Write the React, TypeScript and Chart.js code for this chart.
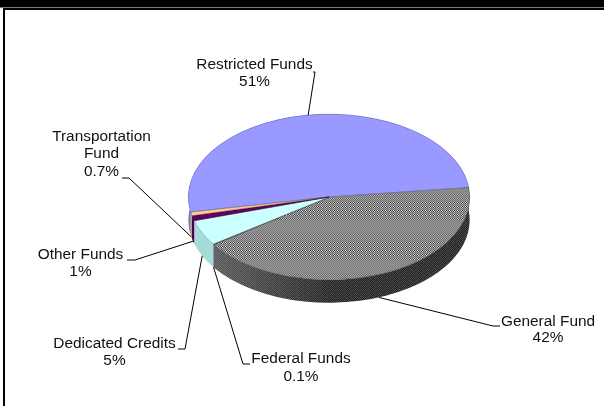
import { useEffect, useRef } from "react";
import { Chart, registerables } from "chart.js";

Chart.register(...registerables);

// Budget sources, clockwise from the left edge of the largest slice.
const categories = ["Restricted Funds", "General Fund", "Federal Funds", "Dedicated Credits", "Other Funds", "Transportation Fund"];
const shares = [51, 42, 0.1, 5, 1, 0.7];
const topColors = ["#9999ff", "GENERAL", "#003366", "#ccffff", "#660066", "#ffcc99"];
const wallColors = ["#6c6cc4", "GENERAL", "#00264d", "#a6dcd8", "#4d004d", "#c89a70"];
const edgeColors = ["rgba(90,90,190,0.8)", "rgba(70,70,70,0.7)", "rgba(20,20,20,0.7)", "rgba(110,130,130,0.8)", "rgba(20,20,20,0.9)", "rgba(20,20,20,0.6)"];

const PIE_SQUASH = 83 / 141;
const PIE_DEPTH = 23;
const START_ANGLE = 259.5;

// Text blocks and leader elbows around the pie.
const callouts = [
  { lines: ["Restricted", "Funds"], oneLine: true, cx: 254.5, y: 65, step: 17, elbow: [315, 72], tail: [313, 72] },
  { lines: ["General", "Fund"], oneLine: true, cx: 548, y: 322, step: 16.5, elbow: [493, 326], tail: [500, 326] },
  { lines: ["Federal", "Funds"], oneLine: true, cx: 301, y: 359, step: 18, elbow: [243, 364], tail: [250, 364] },
  { lines: ["Dedicated", "Credits"], oneLine: true, cx: 114.5, y: 344, step: 17, elbow: [185, 349], tail: [178, 349] },
  { lines: ["Other", "Funds"], oneLine: true, cx: 80.5, y: 255, step: 17, elbow: [135, 260], tail: [127, 260] },
  { lines: ["Transportation", "Fund"], oneLine: false, cx: 101.5, y: 137, step: 17.5, elbow: [129, 178], tail: [122, 178] },
];

function makeTile(width: number, height: number, shade: (x: number, y: number) => number) {
  const tile = document.createElement("canvas");
  tile.width = width;
  tile.height = height;
  const g = tile.getContext("2d")!;
  for (let y = 0; y < height; y++) {
    for (let x = 0; x < width; x++) {
      const v = shade(x, y);
      g.fillStyle = `rgb(${v},${v},${v})`;
      g.fillRect(x, y, 1, 1);
    }
  }
  return tile;
}

// Dithered fill for the top of the General Fund slice, with banded contrast.
function topTile() {
  const base = [
    [150, 95, 170, 110],
    [90, 235, 30, 190],
    [165, 40, 240, 85],
    [120, 175, 100, 150],
  ];
  return makeTile(8, 40, (x, y) => {
    const contrast = y < 20 ? 1 : y < 32 ? 0.3 : 0.6;
    const v = base[y % 4][x % 4];
    return Math.round(140 + (v - 140) * contrast);
  });
}

// Darker streaked fill for the General Fund wall.
function wallTile() {
  const base = [
    [70, 35, 85, 30, 60, 40],
    [40, 75, 30, 90, 35, 65],
    [80, 30, 60, 45, 85, 30],
    [35, 65, 40, 70, 30, 75],
  ];
  return makeTile(6, 4, (x, y) => base[y][x]);
}

const piePlugin = {
  id: "tiltedPie",
  beforeDraw(chart: any) {
    const { ctx } = chart;
    ctx.save();
    ctx.fillStyle = "#ffffff";
    ctx.fillRect(0, 0, chart.width, chart.height);
    ctx.fillStyle = "#000000";
    ctx.fillRect(0, 0, chart.width, 7);
    ctx.fillStyle = "#7a7a7a";
    ctx.fillRect(0, 7, chart.width, 1);
    ctx.fillStyle = "#000000";
    ctx.fillRect(3, 8, chart.width - 3, 2);
    ctx.fillRect(3, 8, 2, chart.height - 8);
    ctx.restore();
  },
  beforeDatasetsDraw(chart: any) {
    const { ctx } = chart;
    const arcs = chart.getDatasetMeta(0).data;
    ctx.save();
    arcs.forEach((arc: any, i: number) => {
      const { x, y, startAngle, endAngle, outerRadius } = arc.getProps(["x", "y", "startAngle", "endAngle", "outerRadius"]);
      const ry = outerRadius * PIE_SQUASH;
      ctx.beginPath();
      ctx.ellipse(x, y, outerRadius, ry, 0, startAngle, endAngle);
      ctx.ellipse(x, y + PIE_DEPTH, outerRadius, ry, 0, endAngle, startAngle, true);
      ctx.closePath();
      if (wallColors[i] === "GENERAL") {
        ctx.fillStyle = ctx.createPattern(wallTile(), "repeat");
        ctx.fill();
        const shade = ctx.createLinearGradient(x - outerRadius * 0.82, 0, x, 0);
        shade.addColorStop(0, "rgba(190,190,190,0.35)");
        shade.addColorStop(1, "rgba(190,190,190,0)");
        ctx.fillStyle = shade;
        ctx.fill();
      } else {
        ctx.fillStyle = wallColors[i];
        ctx.fill();
      }
    });
    const { x, y } = arcs[0];
    ctx.translate(x, y);
    ctx.scale(1, PIE_SQUASH);
    ctx.translate(-x, -y);
  },
  afterDatasetsDraw(chart: any) {
    const { ctx } = chart;
    ctx.restore();
    const arcs = chart.getDatasetMeta(0).data;
    const values = chart.data.datasets[0].data;
    ctx.save();
    ctx.strokeStyle = "#000000";
    ctx.lineWidth = 1;
    ctx.fillStyle = "#111111";
    ctx.textAlign = "center";
    ctx.textBaseline = "middle";
    ctx.font = '14px "Liberation Sans", Arial, sans-serif';
    arcs.forEach((arc: any, i: number) => {
      const { x, y, startAngle, endAngle, outerRadius } = arc.getProps(["x", "y", "startAngle", "endAngle", "outerRadius"]);
      const mid = (startAngle + endAngle) / 2;
      const layout = callouts[i];
      const facesViewer = Math.sin(mid) > 0;
      const px = x + Math.cos(mid) * outerRadius;
      const py = y + Math.sin(mid) * outerRadius * PIE_SQUASH + (facesViewer ? PIE_DEPTH : 0);
      ctx.beginPath();
      ctx.moveTo(px, py);
      ctx.lineTo(layout.elbow[0], layout.elbow[1]);
      ctx.lineTo(layout.tail[0], layout.tail[1]);
      ctx.stroke();
      const rows = layout.oneLine
        ? [layout.lines.join(" "), `${values[i]}%`]
        : [...layout.lines, `${values[i]}%`];
      rows.forEach((row, r) => {
        ctx.save();
        ctx.translate(layout.cx, layout.y + r * layout.step);
        ctx.scale(1.1, 1);
        ctx.fillText(row, 0, 0);
        ctx.restore();
      });
    });
    ctx.restore();
  },
};

export default function App() {
  const ref = useRef<HTMLCanvasElement>(null);
  useEffect(() => {
    document.body.style.margin = "0";
    const probe = document.createElement("canvas").getContext("2d")!;
    const generalTop = probe.createPattern(topTile(), "repeat")!;
    // The slices are drawn under a vertical squash; keep the dither at screen scale.
    generalTop.setTransform(new DOMMatrix().scale(1, 1 / PIE_SQUASH));
    const chart = new Chart(ref.current!, {
      type: "pie",
      data: {
        labels: categories,
        datasets: [
          {
            data: shares,
            backgroundColor: topColors.map((c) => (c === "GENERAL" ? generalTop : c)),
            borderColor: edgeColors,
            borderWidth: 0.7,
            clip: false,
          } as any,
        ],
      },
      options: {
        responsive: false,
        animation: false,
        rotation: START_ANGLE,
        layout: { padding: { left: 188, right: 134, top: 56, bottom: 68 } },
        plugins: { legend: { display: false }, tooltip: { enabled: false }, title: { display: false } },
        events: [],
      },
      plugins: [piePlugin],
    });
    return () => chart.destroy();
  }, []);
  return <canvas ref={ref} width={604} height={406} style={{ display: "block" }} />;
}
